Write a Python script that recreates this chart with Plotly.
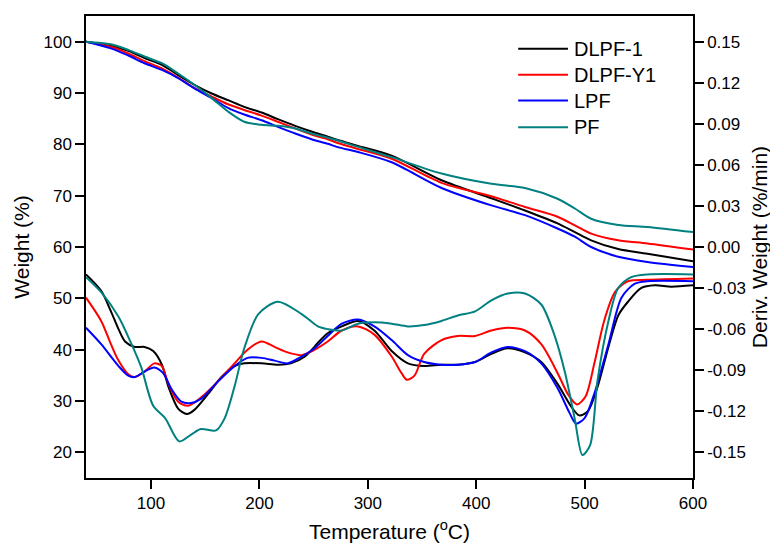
import plotly.graph_objects as go

# ---------------- data ----------------
series_names = ["DLPF-1", "DLPF-Y1", "LPF", "PF"]
series_colors = ["#000000", "#ff0000", "#0000ff", "#008080"]

# TG curves (Weight, %)
tg_temp = [40, 63, 79, 94, 110, 125, 140, 156, 171, 186, 202, 217, 233, 248, 263, 273,
           291, 322, 368, 414, 445, 475, 491, 506, 531, 558, 600]
tg_dlpf1 = [100, 99.2, 98.2, 96.8, 95.5, 93.5, 91.6, 89.9, 88.6, 87.3, 86.2, 84.9, 83.6, 82.5,
            81.5, 80.8, 79.7, 77.8, 73.0, 69.5, 67.1, 64.6, 62.9, 61.3, 59.6, 58.7, 57.2]
tg_dlpfy1 = [100, 99.0, 97.7, 96.2, 94.8, 93.0, 91.0, 89.3, 87.8, 86.7, 85.6, 84.4, 83.1, 81.9,
             81.0, 80.2, 79.1, 77.2, 72.5, 69.9, 67.8, 65.9, 64.2, 62.6, 61.3, 60.7, 59.5]
tg_lpf = [100, 98.7, 97.3, 95.8, 94.5, 92.9, 90.9, 89.0, 87.1, 85.8, 84.7, 83.4, 82.1, 81.0,
          80.1, 79.4, 78.5, 76.5, 71.5, 68.1, 66.2, 63.6, 62.0, 60.0, 58.1, 57.1, 56.1]
tg_pf = [100, 99.5, 98.4, 97.1, 95.8, 93.8, 91.6, 89.0, 86.4, 84.4, 83.8, 83.6, 83.1, 82.1,
         81.3, 80.7, 79.5, 77.5, 74.3, 72.3, 71.5, 69.4, 67.5, 65.5, 64.3, 63.9, 62.9]

# DTG curves (Deriv. Weight, %/min)
dtg_dlpf1_t = [40, 54, 63, 70, 76, 85, 94, 102, 110, 116, 125, 133, 140, 153, 165, 177, 186,
               202, 217, 229, 242, 254, 263, 276, 291, 306, 322, 337, 352, 368, 383, 399, 414,
               429, 445, 460, 475, 488, 495, 503, 512, 522, 531, 540, 552, 565, 580, 600]
dtg_dlpf1 = [-0.020, -0.032, -0.047, -0.060, -0.069, -0.073, -0.073, -0.076, -0.086, -0.102,
             -0.118, -0.122, -0.119, -0.107, -0.095, -0.087, -0.085, -0.085, -0.086, -0.085,
             -0.080, -0.070, -0.063, -0.058, -0.054, -0.061, -0.076, -0.085, -0.087, -0.086,
             -0.086, -0.084, -0.078, -0.074, -0.077, -0.084, -0.100, -0.117, -0.123, -0.120,
             -0.102, -0.073, -0.050, -0.040, -0.030, -0.028, -0.029, -0.028]

dtg_dlpfy1_t = [40, 54, 63, 70, 79, 85, 94, 103, 110, 116, 125, 134, 146, 162, 177, 189, 202,
                214, 226, 239, 251, 263, 276, 291, 306, 322, 331, 336, 343, 352, 368, 383, 399,
                414, 429, 445, 460, 475, 485, 493, 501, 509, 518, 528, 540, 558, 600]
dtg_dlpfy1 = [-0.037, -0.054, -0.071, -0.083, -0.093, -0.095, -0.091, -0.085, -0.087, -0.100,
              -0.113, -0.116, -0.110, -0.098, -0.085, -0.075, -0.069, -0.073, -0.077, -0.079,
              -0.075, -0.069, -0.061, -0.058, -0.064, -0.080, -0.092, -0.097, -0.094, -0.078,
              -0.068, -0.065, -0.065, -0.061, -0.059, -0.061, -0.071, -0.092, -0.108, -0.115,
              -0.109, -0.085, -0.054, -0.033, -0.025, -0.024, -0.023]

dtg_lpf_t = [40, 54, 70, 79, 85, 94, 103, 111, 119, 128, 137, 146, 162, 177, 189, 202, 214,
             226, 239, 251, 263, 276, 291, 306, 322, 337, 352, 368, 383, 399, 414, 429, 445,
             460, 475, 486, 492, 500, 509, 522, 534, 546, 558, 600]
dtg_lpf = [-0.059, -0.071, -0.087, -0.094, -0.095, -0.091, -0.088, -0.092, -0.104, -0.113,
           -0.114, -0.111, -0.098, -0.087, -0.081, -0.081, -0.083, -0.085, -0.080, -0.074,
           -0.065, -0.056, -0.053, -0.058, -0.068, -0.079, -0.084, -0.086, -0.086, -0.084,
           -0.077, -0.073, -0.076, -0.085, -0.103, -0.121, -0.129, -0.125, -0.107, -0.071,
           -0.037, -0.027, -0.025, -0.025]

dtg_pf_t = [40, 54, 70, 82, 91, 102, 113, 126, 137, 146, 160, 168, 177, 186, 199, 217, 239,
            254, 263, 276, 291, 306, 322, 337, 352, 368, 383, 399, 414, 429, 445, 460, 472,
            482, 491, 498, 505, 512, 522, 531, 543, 558, 600]
dtg_pf = [-0.022, -0.033, -0.051, -0.071, -0.088, -0.116, -0.125, -0.142, -0.137, -0.133,
          -0.134, -0.125, -0.102, -0.074, -0.049, -0.040, -0.049, -0.058, -0.060, -0.061,
          -0.056, -0.055, -0.056, -0.058, -0.057, -0.054, -0.050, -0.047, -0.039, -0.034,
          -0.034, -0.042, -0.064, -0.092, -0.126, -0.152, -0.145, -0.097, -0.054, -0.030,
          -0.022, -0.020, -0.020]

x_ticks = [100, 200, 300, 400, 500, 600]
y_ticks = [20, 30, 40, 50, 60, 70, 80, 90, 100]
y2_ticks = [-0.15, -0.12, -0.09, -0.06, -0.03, 0.00, 0.03, 0.06, 0.09, 0.12, 0.15]
y2_ticktext = ["-0.15", "-0.12", "-0.09", "-0.06", "-0.03", "0.00", "0.03", "0.06", "0.09",
               "0.12", "0.15"]

# ---------------- figure ----------------
FONT = "Liberation Sans, Arial, sans-serif"
fig = go.Figure()

tg_sets = [tg_dlpf1, tg_dlpfy1, tg_lpf, tg_pf]
dtg_sets = [(dtg_dlpf1_t, dtg_dlpf1), (dtg_dlpfy1_t, dtg_dlpfy1),
            (dtg_lpf_t, dtg_lpf), (dtg_pf_t, dtg_pf)]

for name, col, tg in zip(series_names, series_colors, tg_sets):
    fig.add_trace(go.Scatter(x=tg_temp, y=tg, mode="lines", name=name, showlegend=False,
                             line=dict(color=col, width=2, shape="spline", smoothing=0.8)))
for name, col, (t, d) in zip(series_names, series_colors, dtg_sets):
    fig.add_trace(go.Scatter(x=t, y=d, mode="lines", name=name, showlegend=False, yaxis="y2",
                             line=dict(color=col, width=2, shape="spline", smoothing=0.8)))

# custom legend (line samples + labels)
leg_y = [0.929, 0.873, 0.817, 0.759]
shapes = []
annotations = []
for name, col, yy in zip(series_names, series_colors, leg_y):
    shapes.append(dict(type="line", xref="paper", yref="paper", x0=0.712, x1=0.794,
                       y0=yy, y1=yy, line=dict(color=col, width=2)))
    annotations.append(dict(xref="paper", yref="paper", x=0.801, y=yy, text=name,
                            showarrow=False, xanchor="left", yanchor="middle",
                            font=dict(family=FONT, size=20, color="#000000")))

axis_common = dict(showline=True, linecolor="#000000", linewidth=1.5, ticks="outside",
                   ticklen=9, tickwidth=1.5, tickcolor="#000000", showgrid=False,
                   zeroline=False, tickfont=dict(family=FONT, size=17, color="#000000"))

fig.update_layout(
    width=778, height=549,
    margin=dict(l=78, r=93, t=6, b=79),
    paper_bgcolor="#ffffff", plot_bgcolor="#ffffff",
    font=dict(family=FONT, color="#000000"),
    shapes=shapes, annotations=annotations,
    xaxis=dict(range=[40, 600], tickvals=x_ticks, mirror=True,
               title=dict(text="Temperature (<sup>o</sup>C)", standoff=12,
                          font=dict(family=FONT, size=21)),
               **axis_common),
    yaxis=dict(range=[15, 105], tickvals=y_ticks,
               title=dict(text="Weight (%)", standoff=8, font=dict(family=FONT, size=21)),
               **axis_common),
    yaxis2=dict(range=[-0.16875, 0.16875], tickvals=y2_ticks, ticktext=y2_ticktext,
                overlaying="y", side="right",
                title=dict(text="Deriv. Weight (%/min)", standoff=7,
                           font=dict(family=FONT, size=21)),
                **axis_common),
)

fig.write_html("out.html")
